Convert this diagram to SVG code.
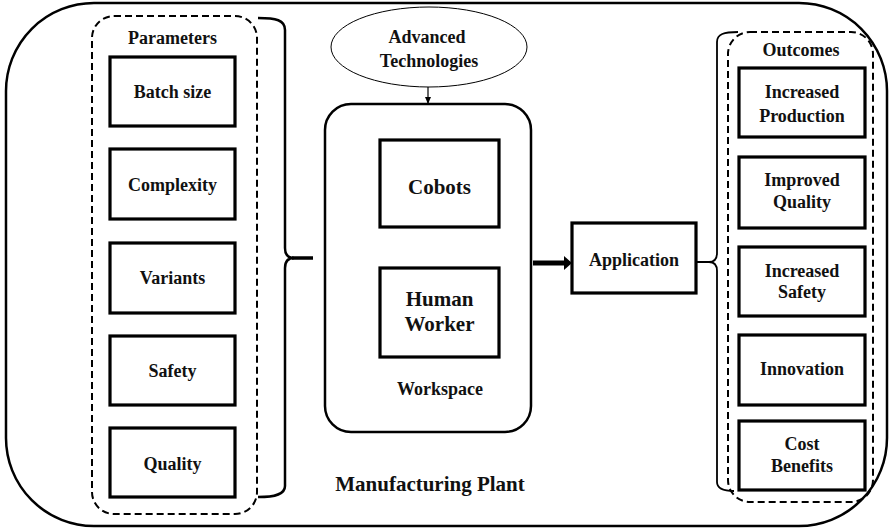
<svg xmlns="http://www.w3.org/2000/svg" width="890" height="531" viewBox="0 0 890 531">
<defs>
<style>
text{font-family:"Liberation Serif","Times New Roman",serif;font-weight:bold;fill:#111;text-anchor:middle}
.t18{font-size:18px}
.t21{font-size:21px}
.box{fill:#fff;stroke:#000;stroke-width:3.2}
.dash{fill:none;stroke:#000;stroke-width:2;stroke-dasharray:7 4}
.line{fill:none;stroke:#000}
</style>
<marker id="ah" markerWidth="8" markerHeight="8" refX="7" refY="4" orient="auto" markerUnits="userSpaceOnUse">
<path d="M0,1 L7,4 L0,7 Z" fill="#000"/>
</marker>
</defs>
<rect width="890" height="531" fill="#fff"/>
<g id="plant">
<rect x="6" y="3" width="881" height="523" rx="88" ry="88" fill="none" stroke="#000" stroke-width="2.5"/>
<text class="t21" x="430" y="491">Manufacturing Plant</text>
</g>
<g id="parameters">
<rect class="dash" x="92" y="16" width="165" height="498" rx="22"/>
<text class="t18" x="172.5" y="44">Parameters</text>
</g>
<g id="batch"><rect class="box" x="110" y="57" width="125" height="69"/><text class="t18" x="172.5" y="98">Batch size</text></g>
<g id="complexity"><rect class="box" x="110" y="149" width="125" height="70"/><text class="t18" x="172.5" y="191">Complexity</text></g>
<g id="variants"><rect class="box" x="110" y="243" width="125" height="70"/><text class="t18" x="172.5" y="284">Variants</text></g>
<g id="safety"><rect class="box" x="110" y="336" width="125" height="69"/><text class="t18" x="172.5" y="377">Safety</text></g>
<g id="quality"><rect class="box" x="110" y="428" width="125" height="69"/><text class="t18" x="172.5" y="470">Quality</text></g>
<g id="advanced">
<ellipse cx="429" cy="47" rx="98" ry="40" fill="#fff" stroke="#000" stroke-width="1"/>
<text class="t18" x="427" y="43">Advanced</text>
<text class="t18" x="429" y="67">Technologies</text>
</g>
<g id="workspace">
<rect x="325" y="104" width="206" height="328" rx="26" fill="#fff" stroke="#000" stroke-width="2.5"/>
<text class="t18" x="440" y="395">Workspace</text>
</g>
<g id="cobots"><rect class="box" x="380" y="140" width="119" height="87"/><text class="t21" x="439.5" y="194">Cobots</text></g>
<g id="human"><rect class="box" x="380" y="268" width="119" height="89"/><text class="t21" x="439.5" y="306">Human</text><text class="t21" x="439.5" y="331">Worker</text></g>
<g id="application"><rect class="box" x="572" y="223" width="124" height="70"/><text class="t18" x="634" y="266">Application</text></g>
<g id="outcomes">
<rect class="dash" x="728" y="32" width="145" height="470" rx="22"/>
<text class="t18" x="801" y="56">Outcomes</text>
</g>
<g id="production"><rect class="box" x="739" y="68" width="126" height="69"/><text class="t18" x="802" y="98">Increased</text><text class="t18" x="802" y="122">Production</text></g>
<g id="improved"><rect class="box" x="739" y="157" width="126" height="71"/><text class="t18" x="802" y="186">Improved</text><text class="t18" x="802" y="208">Quality</text></g>
<g id="incsafety"><rect class="box" x="739" y="247" width="126" height="69"/><text class="t18" x="802" y="277">Increased</text><text class="t18" x="802" y="298">Safety</text></g>
<g id="innovation"><rect class="box" x="739" y="335" width="126" height="70"/><text class="t18" x="802" y="375">Innovation</text></g>
<g id="cost"><rect class="box" x="739" y="421" width="126" height="69"/><text class="t18" x="802" y="450">Cost</text><text class="t18" x="802" y="472">Benefits</text></g>
<g id="connectors">
<path class="line" stroke-width="2.5" d="M258,18 C276,18 285,20 285,30 L285,248 C285,254 288,258 294,258 C288,258 285,262 285,268 L285,486 C285,494 276,497 258,497"/>
<line class="line" stroke-width="3.5" x1="292" y1="258" x2="313" y2="258"/>
<line class="line" stroke-width="1.2" x1="428" y1="87" x2="428" y2="104" marker-end="url(#ah)"/>
<line class="line" stroke-width="5" x1="533" y1="263" x2="566" y2="263"/>
<path d="M564,256 L572,263 L564,270 Z" fill="#000"/>
<path class="line" stroke-width="1.8" d="M738,32 C724,32 717,34 717,42 L717,253 C717,259 714,262 709,262 C714,262 717,265 717,271 L717,482 C717,488 722,491 734,491"/>
<line class="line" stroke-width="2" x1="696" y1="262" x2="710" y2="262"/>
</g>
</svg>
